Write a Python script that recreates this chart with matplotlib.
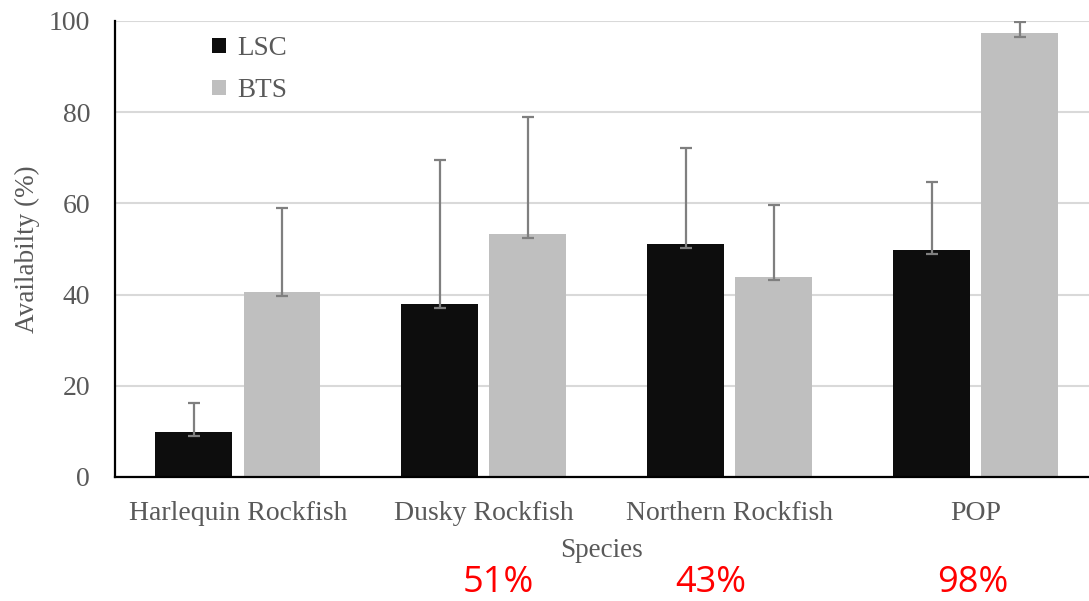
import numpy as np
import matplotlib
matplotlib.use('Agg')
import matplotlib.pyplot as plt
from matplotlib.patches import Patch

# dados de disponibilidade por espécie
especies = ['Harlequin Rockfish', 'Dusky Rockfish', 'Northern Rockfish', 'POP']
lsc = [9.9, 37.9, 51.0, 49.8]
bts = [40.6, 53.3, 43.9, 97.4]
lsc_sup = [6.3, 31.6, 21.1, 14.9]   # barra de erro para cima
bts_sup = [18.4, 25.7, 15.7, 2.4]
err_inf = [0.8, 0.8, 0.8, 0.8]      # pedacinho abaixo do topo da barra
percentuais = ['', '51%', '43%', '98%']
desloc_perc = [0, 14, -19, -3]      # ajuste horizontal dos percentuais (px)

plt.rcParams['font.family'] = ['Liberation Serif', 'DejaVu Serif']
cor_texto = '#595959'

fig = plt.figure(figsize=(10.89, 6.01), dpi=100)
ax = fig.add_axes([115/1089, 1 - 477/601, 1 - 115/1089, (477 - 21)/601])

x = np.arange(len(especies))
larg = 0.313
desl = 0.179

ax.bar(x - desl, lsc, width=larg, color='#0d0d0d', zorder=2)
ax.bar(x + desl, bts, width=larg, color='#bfbfbf', zorder=2)

ax.errorbar(x - desl, lsc, yerr=[err_inf, lsc_sup], fmt='none', ecolor='#7f7f7f',
            elinewidth=1.6, capsize=4.5, capthick=1.6, zorder=3)
ax.errorbar(x + desl, bts, yerr=[err_inf, bts_sup], fmt='none', ecolor='#7f7f7f',
            elinewidth=1.6, capsize=4.5, capthick=1.6, zorder=3)

ax.set_ylim(0, 100)
ax.set_xlim(-0.5, 3.46)
ax.set_yticks(range(0, 101, 20))
ax.set_xticks(x)
ax.set_xticklabels(especies)
ax.tick_params(axis='both', length=0, labelsize=20, labelcolor=cor_texto)
ax.tick_params(axis='x', pad=17)
ax.tick_params(axis='y', pad=18)

ax.yaxis.grid(True, color='#d9d9d9', linewidth=1.5, zorder=0)
ax.set_axisbelow(True)
for lado in ['top', 'right']:
    ax.spines[lado].set_visible(False)
ax.spines['left'].set_linewidth(1.6)
ax.spines['bottom'].set_linewidth(1.6)

ax.set_ylabel('Availabilty (%)', fontsize=19.5, color=cor_texto, labelpad=6)
ax.set_xlabel('Species', fontsize=19.5, color=cor_texto, labelpad=9)

# legenda no canto superior esquerdo
handles = [Patch(facecolor='#0d0d0d', label='LSC'),
           Patch(facecolor='#bfbfbf', label='BTS')]
leg = ax.legend(handles=handles, loc='upper left', bbox_to_anchor=(0.075, 1.02),
                frameon=False, fontsize=19.5, handlelength=0.5, handleheight=0.5,
                handletextpad=0.4, labelspacing=0.62)
for t in leg.get_texts():
    t.set_color(cor_texto)

# percentuais em vermelho abaixo do eixo
for xi, txt, dx in zip(x, percentuais, desloc_perc):
    if txt:
        ax.annotate(txt, xy=(xi, 0), xycoords=('data', 'axes fraction'),
                    xytext=(dx, -106), textcoords='offset pixels',
                    ha='center', va='center', color='red', fontsize=26,
                    family=['Open Sans', 'DejaVu Sans'])

fig.savefig('out.png', dpi=100)
